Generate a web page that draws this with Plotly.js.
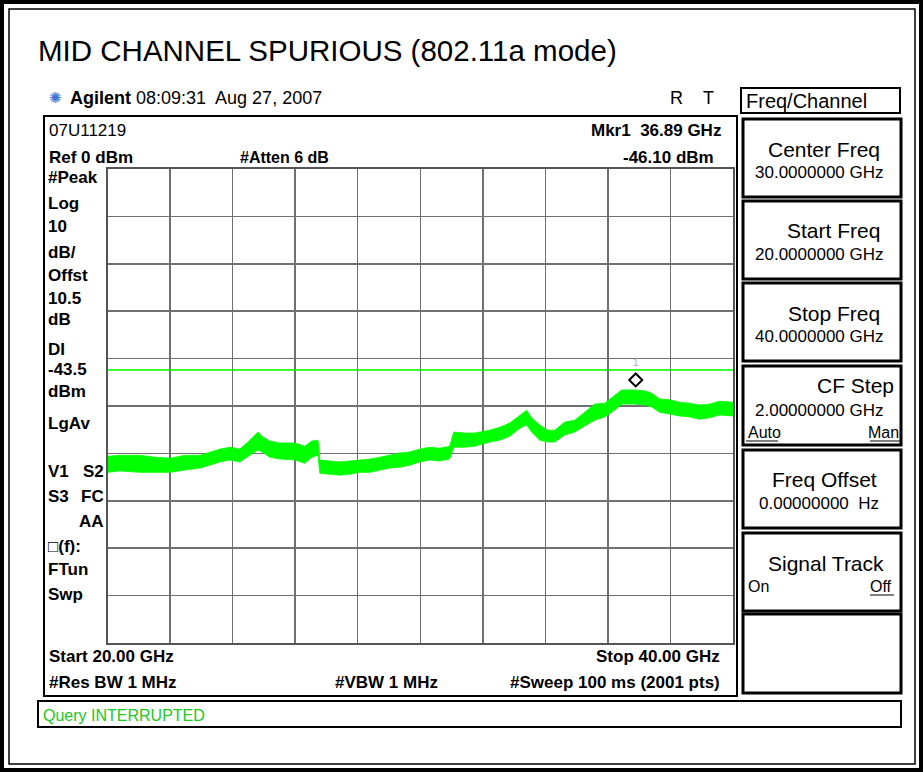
<!DOCTYPE html>
<html>
<head>
<meta charset="utf-8">
<script src="https://cdn.plot.ly/plotly-3.0.1.min.js"></script>
<style>html,body{margin:0;padding:0;background:#fff;}#chart{width:923px;height:772px;}</style>
</head>
<body>
<div id="chart"></div>
<script>
// ---- data ----
const freqGHz = [20.00,20.40,21.04,21.52,22.00,22.48,22.96,23.27,23.59,23.91,24.23,24.55,24.81,24.94,25.19,25.51,25.99,26.31,26.53,26.73,26.79,27.11,27.43,27.75,28.07,28.39,28.71,29.03,29.35,29.66,29.98,30.30,30.62,30.94,31.07,31.42,31.74,32.22,32.54,32.86,33.18,33.40,33.56,33.82,34.07,34.30,34.62,34.94,35.26,35.58,35.90,36.21,36.44,36.85,37.17,37.40,37.65,37.97,38.29,38.61,38.93,39.25,39.57,40.00];
const traceHi = [-60.6,-60.4,-60.4,-60.8,-61.0,-60.4,-60.4,-59.7,-59.1,-58.7,-59.1,-57.2,-55.5,-56.4,-57.4,-57.8,-57.8,-58.5,-57.4,-57.2,-61.4,-61.6,-61.8,-61.6,-61.4,-61.2,-60.8,-60.4,-59.9,-59.7,-59.1,-58.7,-58.9,-58.5,-55.5,-55.7,-55.7,-55.1,-54.5,-53.6,-51.9,-50.9,-52.5,-54.0,-55.1,-55.1,-53.4,-53.0,-51.3,-49.6,-49.4,-47.9,-46.6,-46.6,-46.8,-47.3,-48.5,-48.7,-49.2,-49.4,-49.8,-49.6,-49.0,-49.2];
const traceLo = [-64.0,-63.7,-64.0,-64.0,-64.0,-63.5,-63.1,-62.5,-61.8,-61.4,-61.8,-60.4,-59.3,-59.7,-60.8,-61.2,-61.4,-62.1,-60.8,-60.4,-64.2,-64.4,-64.6,-64.4,-64.0,-64.0,-63.5,-63.1,-62.9,-62.5,-61.8,-61.4,-61.6,-61.2,-58.7,-58.7,-58.5,-57.6,-57.2,-56.4,-54.7,-54.0,-55.5,-57.2,-57.6,-57.6,-56.1,-55.5,-54.2,-53.0,-52.3,-50.9,-49.6,-49.6,-49.8,-50.2,-51.3,-51.7,-52.1,-52.3,-52.8,-52.5,-51.9,-52.1];
const xRange = [20, 40];
const yRange = [-100, 0];
const displayLine = -42.4;      // drawn position of the "DI -43.5 dBm" line
const markerFreq = [36.89];
const markerDraw = [-44.5];     // diamond drawn just above the trace peak
const markerLabelY = -40.9;

const leftLabels = [
  ["#Peak",178],["Log",203],["10",227],["dB/",252],["Offst",276],
  ["10.5",298],["dB",319],["DI",349],["-43.5",370],["dBm",391],
  ["LgAv",424],["V1",472],["S3",497],["\u25A1(f):",546],["FTun",569],["Swp",594]
];
const rightLabels = [["S2",472],["FC",497],["AA",521]];

const softkeys = [
  {top:119, bot:197, title:"Center Freq", value:"30.0000000 GHz", tx:882, vx:753, to:30, vo:53},
  {top:201, bot:279, title:"Start Freq", value:"20.0000000 GHz", tx:882, vx:753, to:30, vo:53},
  {top:283, bot:361, title:"Stop Freq", value:"40.0000000 GHz", tx:882, vx:753, to:30, vo:53},
  {top:366, bot:445, title:"CF Step", value:"2.00000000 GHz", tx:896, vx:753, to:19, vo:44},
  {top:450, bot:528, title:"Freq Offset", value:"0.00000000  Hz", tx:879, vx:757, to:29, vo:53},
  {top:533, bot:611, title:"Signal Track", value:"", tx:886, vx:753, to:30, vo:53},
  {top:614, bot:693, title:"", value:"", tx:886, vx:753, to:30, vo:53}
];

// ---- helpers ----
const W = 923, H = 772;
const px = x => x / W;
const py = y => 1 - y / H;
const FONT = "Liberation Sans, Arial, sans-serif";
const NARROW = "Liberation Sans Narrow, Arial Narrow, Liberation Sans, Arial, sans-serif";
const GREEN = "#00ff00";

const annotations = [];
function T(x, y, text, o) {
  o = o || {};
  annotations.push({
    xref: "paper", yref: "paper", x: px(x), y: py(y), text: text, showarrow: false,
    xanchor: o.anchor || "left", yanchor: "middle",
    font: {family: o.family || FONT, size: o.size || 15, color: o.color || "#000"}
  });
}
const shapes = [];
function R(x0, y0, x1, y1, w, c) {
  shapes.push({type: "rect", xref: "paper", yref: "paper", x0: px(x0), x1: px(x1), y0: py(y1), y1: py(y0),
    line: {color: c || "#000", width: w}, fillcolor: "rgba(0,0,0,0)", layer: "above"});
}
function L(x0, y0, x1, y1, w, c) {
  shapes.push({type: "line", xref: "paper", yref: "paper", x0: px(x0), x1: px(x1), y0: py(y0), y1: py(y1),
    line: {color: c || "#000", width: w}, layer: "above"});
}

// frames
R(2, 2, 921, 770, 4);
R(9, 9, 915, 764, 1.5);
R(44, 116, 737, 696, 2);         // analyser screen
R(741, 88, 900, 113, 2);         // Freq/Channel
R(38, 701, 901, 727, 2);         // status bar
softkeys.forEach(k => R(743, k.top, 901, k.bot, 3));

// title and header
T(36, 50, "MID CHANNEL SPURIOUS (802.11a mode)", {size: 29.5});
T(47, 98, "\u273A", {size: 15, color: "#3f74d9", family: "DejaVu Sans"});
T(68, 98, "<b>Agilent</b> 08:09:31  Aug 27, 2007", {size: 18, family: NARROW});
T(668, 98, "R", {size: 18});
T(701, 98, "T", {size: 18});
T(744, 101, "Freq/Channel", {size: 20});

// screen texts
const S = 17;
T(47, 131, "07U11219", {size: S, family: NARROW});
T(47, 157, "<b>Ref 0 dBm</b>", {size: S, family: NARROW});
T(238, 157, "<b>#Atten 6 dB</b>", {size: 16, family: NARROW});
T(723, 131, "<b>Mkr1  36.89 GHz</b>", {size: S, family: NARROW, anchor: "right"});
T(716, 157, "<b>-46.10 dBm</b>", {size: S, family: NARROW, anchor: "right"});
leftLabels.forEach(l => T(46, l[1], "<b>" + l[0] + "</b>", {size: S, family: NARROW}));
rightLabels.forEach(l => T(106, l[1], "<b>" + l[0] + "</b>", {size: S, family: NARROW, anchor: "right"}));
T(47, 656, "<b>Start 20.00 GHz</b>", {size: S, family: NARROW});
T(722, 656, "<b>Stop 40.00 GHz</b>", {size: S, family: NARROW, anchor: "right"});
T(47, 682, "<b>#Res BW 1 MHz</b>", {size: S, family: NARROW});
T(333, 682, "<b>#VBW 1 MHz</b>", {size: S, family: NARROW});
T(722, 682, "<b>#Sweep 100 ms (2001 pts)</b>", {size: S, family: NARROW, anchor: "right"});
T(41, 715, "Query INTERRUPTED", {size: 16, color: "#22c822", family: NARROW});

// softkey texts
softkeys.forEach(k => {
  if (k.title) T(k.tx, k.top + k.to, k.title, {size: 21, anchor: "right"});
  if (k.value) T(k.vx, k.top + k.vo, k.value, {size: 17});
});
T(746, 432, "Auto", {size: 16}); L(746, 441, 778, 441, 1);
T(901, 432, "Man", {size: 16, anchor: "right"}); L(870, 441, 901, 441, 1);
T(746, 586, "On", {size: 16});
T(894, 586, "Off", {size: 16, anchor: "right"}); L(870, 595, 894, 595, 1);

// marker label "1"
annotations.push({xref: "x", yref: "y", x: markerFreq[0], y: markerLabelY, text: "1", showarrow: false,
  font: {family: FONT, size: 10, color: "#aaaaaa"}});

// display line (data coords)
shapes.push({type: "line", xref: "x", yref: "y", x0: xRange[0], x1: xRange[1], y0: displayLine, y1: displayLine,
  line: {color: GREEN, width: 1.5}, layer: "above"});

const data = [
  {x: freqGHz, y: traceLo, type: "scatter", mode: "lines", line: {color: GREEN, width: 0.8}, hoverinfo: "skip"},
  {x: freqGHz, y: traceHi, type: "scatter", mode: "lines", line: {color: GREEN, width: 0.8},
   fill: "tonexty", fillcolor: GREEN, hoverinfo: "skip"},
  {x: markerFreq, y: markerDraw, type: "scatter", mode: "markers",
   marker: {symbol: "diamond-open", size: 10, color: "#000", line: {width: 2, color: "#000"}}, hoverinfo: "skip"}
];

const axisCommon = {showticklabels: false, ticks: "", zeroline: false, showgrid: true,
  gridcolor: "#707070", gridwidth: 1.5, showline: true, linecolor: "#555", linewidth: 2, mirror: true, fixedrange: true};

const layout = {
  width: W, height: H, margin: {l: 0, r: 0, t: 0, b: 0},
  paper_bgcolor: "#fff", plot_bgcolor: "#fff", showlegend: false,
  xaxis: Object.assign({}, axisCommon, {domain: [px(107.5), px(733)], range: xRange, tick0: 20, dtick: 2}),
  yaxis: Object.assign({}, axisCommon, {domain: [py(643), py(169)], range: yRange, tick0: -100, dtick: 10}),
  shapes: shapes, annotations: annotations
};

Plotly.newPlot("chart", data, layout, {staticPlot: true, displayModeBar: false});
</script>
</body>
</html>
